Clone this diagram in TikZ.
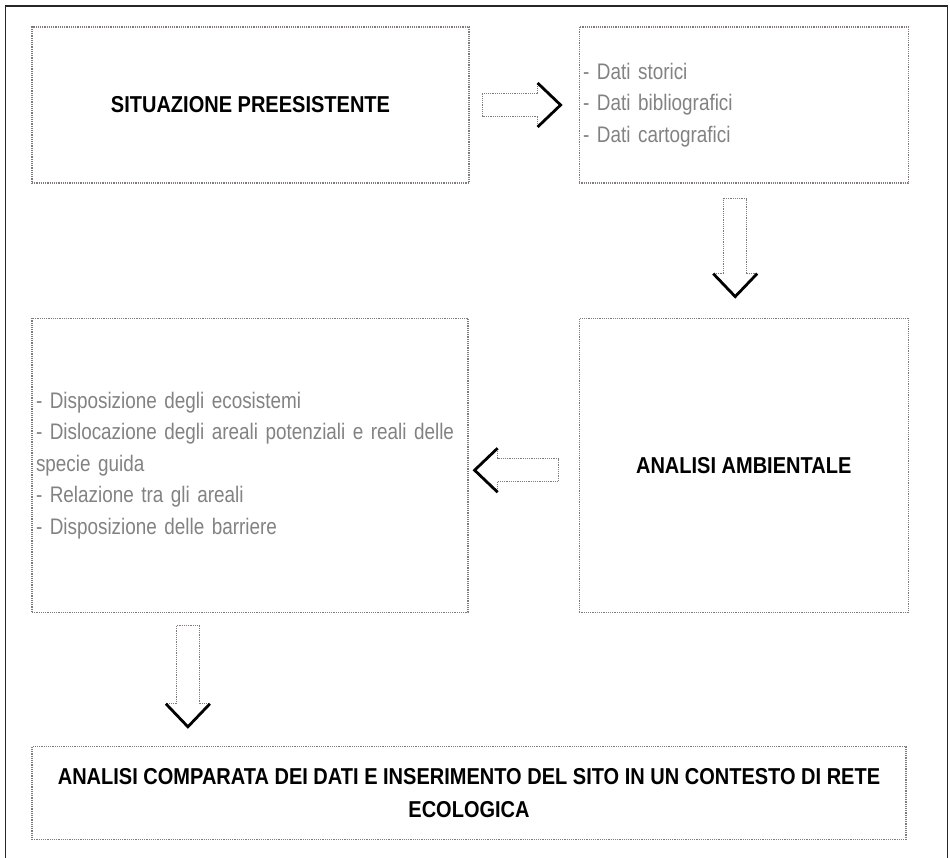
\documentclass[tikz,border=0pt]{standalone}
\usepackage{fontspec}
\setmainfont{Liberation Sans}
\newfontfamily\boxfont[FakeStretch=0.87]{Liberation Sans}
\newfontfamily\listfont[FakeStretch=0.84]{Liberation Sans}
\usetikzlibrary{positioning,calc}
\definecolor{boxgray}{RGB}{128,124,124}
\definecolor{listgray}{RGB}{130,130,130}

\tikzset{
  titlebox/.style={draw=boxgray, densely dotted, line width=1.2pt, inner sep=0pt,
    align=center, font=\boxfont\bfseries\fontsize{23}{33}\selectfont},
  listbox/.style={draw=boxgray, densely dotted, line width=1.2pt, inner xsep=4pt,
    align=left, text=listgray, font=\listfont\fontsize{22.5}{31.5}\selectfont},
  shaftline/.style={draw=boxgray, densely dotted, line width=1.2pt},
  headline/.style={draw=black, line width=2.8pt},
  pics/hollowarrow/.style={code={
    \draw[shaftline] (#1,11.5) -- (0,11.5) -- (0,-11.5) -- (#1,-11.5);
    \draw[shaftline] (#1,11.5) -- (#1,22) (#1,-11.5) -- (#1,-22);
    \draw[headline] (#1,22) -- ++(23,-22) -- ++(-23,-22);
  }}
}

\begin{document}
\begin{tikzpicture}[x=1pt,y=1pt]
    \useasboundingbox (0,0) rectangle (950,857);
    % outer frame
    \draw[line width=1.5pt, black!85] (5.5,-5) -- (5.5,851) -- (947.5,851) -- (947.5,-5);

    % boxes
    \node[titlebox, minimum width=437pt, minimum height=156pt] (sit) at (250.5,752)
        {SITUAZIONE PREESISTENTE};
    \node[listbox, text width=321pt, minimum height=156pt, right=109pt of sit] (dati)
        {- Dati storici\\- Dati bibliografici\\- Dati cartografici};
    \node[titlebox, minimum width=329pt, minimum height=294pt, below=134pt of dati] (amb)
        {ANALISI AMBIENTALE};
    \node[listbox, text width=428pt, minimum height=294pt, left=110pt of amb] (disp)
        {- Disposizione degli ecosistemi\\- Dislocazione degli areali potenziali e reali delle\\specie guida\\- Relazione tra gli areali\\- Disposizione delle barriere};
    \node[titlebox, minimum width=874pt, minimum height=93pt,
          below=133pt of disp.south west, anchor=north west] (comp)
        {ANALISI COMPARATA DEI DATI E INSERIMENTO DEL SITO IN UN CONTESTO DI RETE\\ECOLOGICA};

    % block arrows
    \pic at ($(sit.east)+(13,0)$) {hollowarrow=55};
    \pic[rotate=-90] at ($(dati.south)+(-8.5,-15)$) {hollowarrow=75};
    \pic[rotate=180] at ($(amb.west)+(-20,-5)$) {hollowarrow=61};
    \pic[rotate=-90] at ($(disp.south west)+(156.5,-13)$) {hollowarrow=78};
\end{tikzpicture}
\end{document}
